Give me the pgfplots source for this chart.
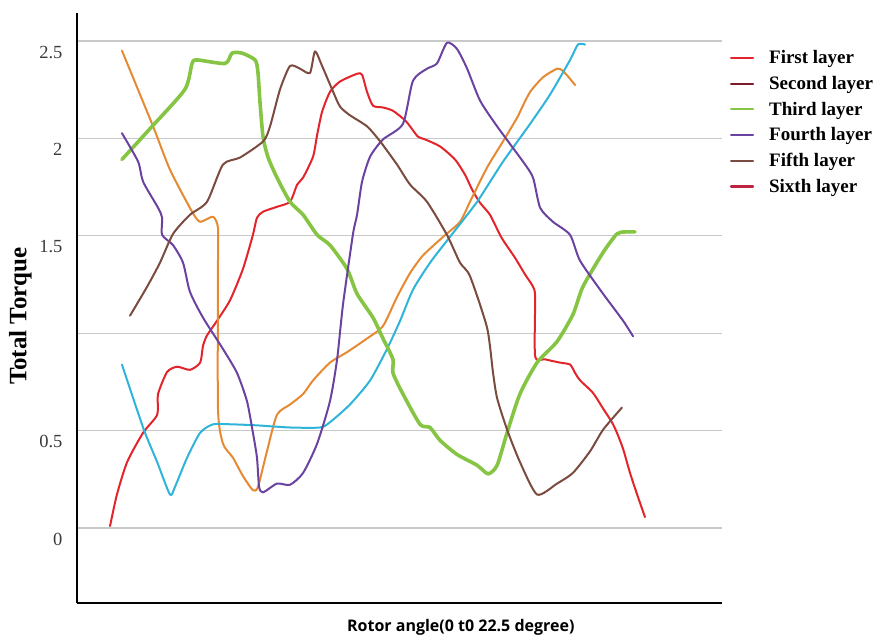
\documentclass[border=0pt]{standalone}
\usepackage{pgfplots}
\pgfplotsset{compat=1.18}
\usepackage{fontspec}
\setmainfont{Liberation Serif}
\newfontfamily\labelsans{Open Sans}

\definecolor{cRed}{HTML}{E3242B}
\definecolor{cOrange}{HTML}{E58A33}
\definecolor{cCyan}{HTML}{2FB4D9}
\definecolor{cGreen}{HTML}{86C543}
\definecolor{cPurple}{HTML}{6A42A0}
\definecolor{cBrown}{HTML}{7A4B3E}
\definecolor{cDarkRed}{HTML}{7E1B2A}
\definecolor{cCrimson}{HTML}{BE2340}
\definecolor{gridgray}{HTML}{C9C9C9}
\definecolor{ticktext}{HTML}{3A3A3A}

\begin{document}
\begin{tikzpicture}
\useasboundingbox (-77pt,-34pt) rectangle (800pt,603pt);
\begin{axis}[
  scale only axis, width=645pt, height=590pt,
  xmin=-1.39, xmax=25.74, ymin=-0.385, ymax=2.644,
  axis x line=bottom, axis y line=left,
  axis line style={-, line width=2.2pt, black},
  xtick=\empty,
  ytick={0,0.5,1,1.5,2,2.5}, yticklabels={0,0.5,,1.5,2,2.5},
  major tick length=0pt,
  /pgf/number format/assume math mode=true,
  ymajorgrids, grid style={line width=1.3pt, gridgray},
  yticklabel style={font=\fontsize{18.5}{18.5}\selectfont, text=ticktext, anchor=east, xshift=-11pt, yshift=-11pt},
  xlabel={Rotor angle(0 t0 22.5 degree)},
  xlabel style={font=\labelsans\bfseries\fontsize{16}{16}\selectfont, at={(axis description cs:0.595,0)}, anchor=center, yshift=-24pt},
  ylabel={Total Torque},
  ylabel style={font=\bfseries\fontsize{25}{25}\selectfont, at={(axis description cs:-0.088,0.486)}, anchor=center, rotate=0},
  every axis plot/.append style={line width=2pt, line join=round, line cap=round, smooth, tension=0.4},
  legend image code/.code={\draw[#1, line width=2.2pt] (0pt,0pt) -- (22pt,0pt);},
  legend style={draw=none, fill=none, at={(1.012,0.94)}, anchor=north west,
    font=\bfseries\fontsize{19}{22}\selectfont, row sep=7pt, inner sep=0pt,
    /tikz/every odd column/.append style={column sep=13pt}},
  legend cell align=left,
]
% first curve (red)
\addplot[cRed, forget plot] coordinates {
(0,0.01) (0.29,0.172) (0.72,0.339) (1.39,0.489) (1.98,0.581) (2.02,0.688)
(2.40,0.801) (2.82,0.828) (3.36,0.812) (3.79,0.849) (3.91,0.935) (4.08,0.989)
(4.50,1.064) (5.05,1.170) (5.59,1.330) (6.01,1.505) (6.18,1.593) (6.44,1.624)
(7.02,1.649) (7.57,1.675) (7.87,1.763) (8.12,1.799) (8.54,1.907) (8.71,2.018)
(8.92,2.137) (9.25,2.239) (9.67,2.292) (10.39,2.332) (10.60,2.327) (10.81,2.239)
(11.06,2.168) (11.48,2.159) (11.90,2.142) (12.41,2.093) (12.62,2.062) (12.95,2.009)
(13.25,1.995) (13.88,1.959) (14.51,1.892) (14.93,1.814) (15.23,1.737) (15.56,1.670)
(15.98,1.608) (16.40,1.505) (16.61,1.463) (17.03,1.388) (17.45,1.303) (17.79,1.239)
(17.88,1.186) (17.88,0.882) (18.30,0.866) (18.93,0.849) (19.35,0.839) (19.56,0.796)
(19.77,0.758) (20.31,0.694) (20.74,0.613) (21.11,0.543) (21.32,0.489) (21.58,0.406)
(21.87,0.283) (22.17,0.172) (22.50,0.056)
};
% orange curve
\addplot[cOrange, forget plot] coordinates {
(0.50,2.451) (1.81,2.062) (2.52,1.840) (3.45,1.624) (3.79,1.572) (4.33,1.598)
(4.54,1.541) (4.54,1.346) (4.54,0.613) (4.75,0.433) (5.17,0.361) (5.59,0.267)
(6.01,0.194) (6.22,0.211) (6.60,0.394) (7.02,0.581) (7.57,0.634) (8.12,0.688)
(8.54,0.758) (9.25,0.849) (9.97,0.903) (10.81,0.973) (11.48,1.037) (12.07,1.186)
(12.62,1.309) (13.16,1.399) (14.01,1.495) (14.72,1.572) (15.14,1.675) (15.86,1.851)
(16.53,1.985) (17.12,2.106) (17.33,2.159) (17.67,2.239) (18.21,2.314) (18.80,2.358)
(19.01,2.350) (19.26,2.319) (19.56,2.274)
};
% cyan curve
\addplot[cCyan, forget plot] coordinates {
(0.50,0.839) (0.97,0.667) (1.47,0.489) (1.98,0.339) (2.52,0.172) (2.73,0.211)
(3.24,0.361) (3.79,0.489) (4.33,0.532) (5.17,0.532) (6.18,0.527) (7.57,0.516)
(8.83,0.516) (9.25,0.543) (10.09,0.634) (10.94,0.758) (11.65,0.919) (12.20,1.064)
(12.74,1.223) (13.46,1.362) (14.30,1.495) (15.44,1.675) (16.53,1.881) (17.67,2.075)
(18.51,2.226) (19.35,2.403) (19.68,2.482) (19.98,2.482)
};
% green curve
\addplot[cGreen, line width=3.6pt, forget plot] coordinates {
(0.50,1.892) (1.77,2.062) (3.15,2.252) (3.45,2.385) (3.66,2.403) (4.84,2.385)
(5.13,2.438) (5.55,2.438) (6.10,2.403) (6.22,2.341) (6.31,2.181) (6.44,2.004)
(6.65,1.902) (7.02,1.799) (7.57,1.675) (8.12,1.608) (8.71,1.505) (9.25,1.452)
(9.97,1.330) (10.39,1.202) (11.06,1.080) (11.48,0.973) (11.90,0.866) (11.90,0.796)
(12.32,0.688) (13.04,0.532) (13.46,0.516) (13.88,0.450) (14.59,0.378) (15.44,0.322)
(15.90,0.278) (16.28,0.322) (16.70,0.489) (17.24,0.688) (17.96,0.849) (18.80,0.957)
(19.47,1.096) (19.89,1.239) (20.74,1.415) (21.32,1.510) (21.66,1.520) (22.08,1.520)
};
% purple curve
\addplot[cPurple, forget plot] coordinates {
(0.50,2.027) (1.18,1.881) (1.39,1.778) (2.02,1.644) (2.19,1.593) (2.19,1.505)
(2.65,1.452) (3.07,1.362) (3.36,1.213) (3.91,1.080) (4.75,0.919) (5.34,0.796)
(5.76,0.651) (6.01,0.489) (6.18,0.361) (6.27,0.211) (6.44,0.183) (7.02,0.228)
(7.57,0.222) (8.12,0.283) (8.71,0.433) (9.25,0.651) (9.55,0.866) (9.80,1.149)
(10.22,1.510) (10.39,1.608) (10.60,1.778) (10.94,1.907) (11.48,1.995) (12.32,2.075)
(12.74,2.296) (13.33,2.358) (13.75,2.385) (14.17,2.491) (14.59,2.460) (15.02,2.358)
(15.56,2.195) (16.28,2.062) (17.37,1.881) (17.79,1.799) (18.09,1.644) (18.63,1.572)
(19.35,1.505) (19.77,1.372) (20.74,1.202) (21.58,1.064) (22.00,0.984)
};
% brown curve
\addplot[cBrown, forget plot] coordinates {
(0.84,1.090) (1.56,1.239) (2.10,1.362) (2.65,1.510) (3.36,1.608) (4.08,1.675)
(4.75,1.866) (5.47,1.902) (6.44,1.985) (6.73,2.062) (7.15,2.252) (7.57,2.372)
(7.99,2.358) (8.41,2.336) (8.62,2.447) (8.92,2.372) (9.34,2.252) (9.67,2.164)
(10.09,2.119) (10.81,2.062) (11.36,1.985) (12.07,1.866) (12.62,1.763) (13.33,1.675)
(14.17,1.505) (14.72,1.362) (15.14,1.293) (15.86,1.027) (16.11,0.796) (16.28,0.667)
(16.70,0.505) (17.24,0.339) (17.96,0.172) (18.80,0.228) (19.47,0.283) (20.19,0.394)
(20.74,0.505) (21.53,0.618)
};
\addlegendimage{cRed}
\addlegendentry{First layer}
\addlegendimage{cDarkRed}
\addlegendentry{Second layer}
\addlegendimage{cGreen, line width=3.4pt}
\addlegendentry{Third layer}
\addlegendimage{cPurple}
\addlegendentry{Fourth layer}
\addlegendimage{cBrown}
\addlegendentry{Fifth layer}
\addlegendimage{cCrimson}
\addlegendentry{Sixth layer}
\end{axis}
\end{tikzpicture}
\end{document}
